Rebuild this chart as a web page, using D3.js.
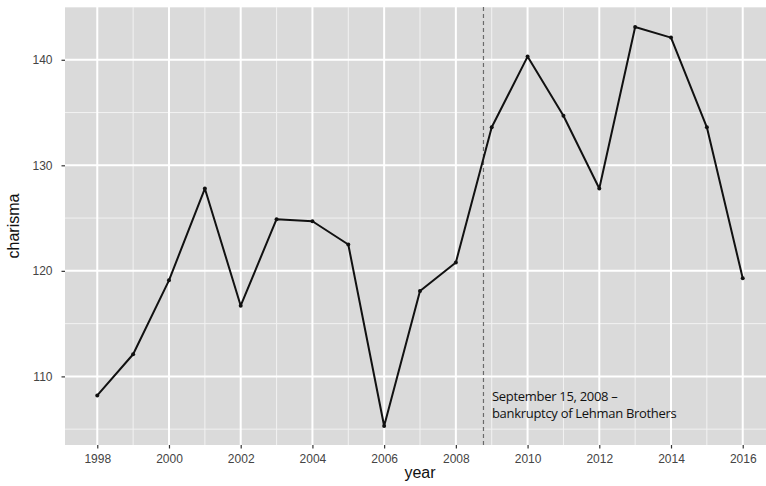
<!DOCTYPE html>
<html>
<head>
<meta charset="utf-8">
<title>charisma by year</title>
<style>
  body { margin: 0; background: #fff; }
  svg { display: block; }
  .tick text { font-family: "Liberation Sans", Arial, sans-serif; font-size: 12px; fill: #444; }
  .axis-title { font-family: "Liberation Sans", Arial, sans-serif; font-size: 16px; fill: #111; }
  .note { font-family: "Open Sans", sans-serif; font-size: 13px; font-weight: 500; fill: #111; letter-spacing: -0.3px; }
</style>
<script src="https://d3js.org/d3.v7.min.js"></script>
</head>
<body>
<svg id="chart" width="766" height="486"></svg>
<script>
// data
const years = [1998, 1999, 2000, 2001, 2002, 2003, 2004, 2005, 2006, 2007,
               2008, 2009, 2010, 2011, 2012, 2013, 2014, 2015, 2016];
const charisma = [108.2, 112.1, 119.1, 127.8, 116.7, 124.9, 124.7, 122.5, 105.3, 118.1,
                  120.8, 133.6, 140.3, 134.7, 127.8, 143.1, 142.1, 133.6, 119.3];
const xTicks = [1998, 2000, 2002, 2004, 2006, 2008, 2010, 2012, 2014, 2016];
const xMinor = [1999, 2001, 2003, 2005, 2007, 2009, 2011, 2013, 2015];
const yTicks = [110, 120, 130, 140];
const yMinor = [105, 115, 125, 135, 145];
const eventYear = 2008.77;  // September 15, 2008 (as placed in the picture)
const noteLines = ["September 15, 2008 \u2013", "bankruptcy of Lehman Brothers"];

const svg = d3.select("#chart");
const panel = { left: 65, top: 7, right: 775, bottom: 445 };

const x = d3.scaleLinear().domain([1997.1, 2016.9]).range([panel.left, panel.right]);
const y = d3.scaleLinear().domain([103.5, 145.0]).range([panel.bottom, panel.top]);

svg.append("defs").append("clipPath").attr("id", "clip")
    .append("rect")
    .attr("x", panel.left).attr("y", panel.top)
    .attr("width", panel.right - panel.left).attr("height", panel.bottom - panel.top);

svg.append("rect")
    .attr("x", panel.left).attr("y", panel.top)
    .attr("width", panel.right - panel.left).attr("height", panel.bottom - panel.top)
    .attr("fill", "#dadada");

const grid = svg.append("g").attr("clip-path", "url(#clip)");

grid.selectAll("line.ymin").data(yMinor).join("line")
    .attr("x1", panel.left).attr("x2", panel.right)
    .attr("y1", d => y(d)).attr("y2", d => y(d))
    .attr("stroke", "#f2f2f2").attr("stroke-width", 1);

grid.selectAll("line.xmin").data(xMinor).join("line")
    .attr("y1", panel.top).attr("y2", panel.bottom)
    .attr("x1", d => x(d)).attr("x2", d => x(d))
    .attr("stroke", "#f2f2f2").attr("stroke-width", 1);

grid.selectAll("line.ymaj").data(yTicks).join("line")
    .attr("x1", panel.left).attr("x2", panel.right)
    .attr("y1", d => y(d)).attr("y2", d => y(d))
    .attr("stroke", "#fff").attr("stroke-width", 2);

grid.selectAll("line.xmaj").data(xTicks).join("line")
    .attr("y1", panel.top).attr("y2", panel.bottom)
    .attr("x1", d => x(d)).attr("x2", d => x(d))
    .attr("stroke", "#fff").attr("stroke-width", 2);

// axes
const xAxis = svg.append("g")
    .attr("transform", `translate(0,${panel.bottom})`)
    .call(d3.axisBottom(x).tickValues(xTicks).tickFormat(d3.format("d")).tickSize(3.5).tickPadding(6));
const yAxis = svg.append("g")
    .attr("transform", `translate(${panel.left},0)`)
    .call(d3.axisLeft(y).tickValues(yTicks).tickSize(3.5).tickPadding(9));
[xAxis, yAxis].forEach(a => {
    a.select(".domain").remove();
    a.selectAll(".tick line").attr("stroke", "#333").attr("stroke-width", 1.2);
    a.attr("font-family", null).attr("font-size", null);
});

// event marker
grid.append("line")
    .attr("x1", x(eventYear)).attr("x2", x(eventYear))
    .attr("y1", panel.top).attr("y2", panel.bottom)
    .attr("stroke", "#6a6a6a").attr("stroke-width", 1.2)
    .attr("stroke-dasharray", "4,3");

// series
const pts = years.map((yr, i) => [yr, charisma[i]]);
grid.append("path")
    .datum(pts)
    .attr("fill", "none")
    .attr("stroke", "#111")
    .attr("stroke-width", 2)
    .attr("stroke-linejoin", "round")
    .attr("d", d3.line().x(d => x(d[0])).y(d => y(d[1])));

grid.selectAll("circle").data(pts).join("circle")
    .attr("cx", d => x(d[0])).attr("cy", d => y(d[1]))
    .attr("r", 2).attr("fill", "#111");

// annotation
svg.append("text").attr("class", "note")
    .attr("x", x(eventYear) + 8.5).attr("y", 400.5)
    .selectAll("tspan").data(noteLines).join("tspan")
    .attr("x", x(eventYear) + 8.5)
    .attr("dy", (d, i) => i === 0 ? 0 : 17)
    .text(d => d);

// titles
svg.append("text").attr("class", "axis-title")
    .attr("x", (panel.left + panel.right) / 2).attr("y", 478)
    .attr("text-anchor", "middle")
    .text("year");

svg.append("text").attr("class", "axis-title")
    .attr("transform", `translate(19,${(panel.top + panel.bottom) / 2}) rotate(-90)`)
    .attr("text-anchor", "middle")
    .text("charisma");
</script>
</body>
</html>
